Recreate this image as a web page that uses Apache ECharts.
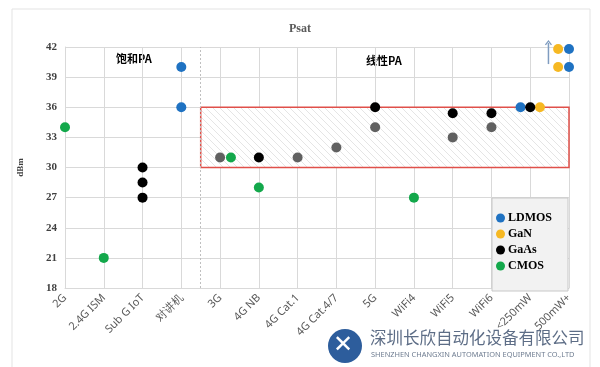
<!DOCTYPE html>
<html><head><meta charset="utf-8">
<script src="https://cdn.jsdelivr.net/npm/echarts@6/dist/echarts.min.js"></script>
<style>html,body{margin:0;padding:0;background:#fff}#c{width:600px;height:367px}</style>
</head><body><div id="c"></div>
<script>
var categories = ['2G','2.4G ISM','Sub G IoT','对讲机','3G','4G NB','4G Cat.1','4G Cat.4/7','5G','WiFi4','WiFi5','WiFi6','<250mW','500mW+'];
var yTicks = [18,21,24,27,30,33,36,39,42];
// [category position, dBm]
var ldmos = [[3,40],[3,36],[11.75,36],[13,41.8],[13,40]];
var gan   = [[12.25,36],[12.72,41.8],[12.72,40]];
var gaas  = [[2,30],[2,28.5],[2,27],[5,31],[8,36],[10,35.4],[11,35.4],[12,36]];
var cmos  = [[0,34],[1,21],[4.28,31],[5,28],[9,27]];
var gaasLinear = [[4,31],[6,31],[7,32],[8,34],[10,33],[11,34]];
var linearBand = [3.5, 13, 30, 36];
var arrowFrom = [12.47, 40.3], arrowTo = [12.47, 42.6];

var pc = document.createElement('canvas'); pc.width = 7; pc.height = 7;
var g = pc.getContext('2d'); g.fillStyle='#fff'; g.fillRect(0,0,7,7);
g.strokeStyle = '#dadada'; g.lineWidth = 0.7;
g.beginPath(); g.moveTo(0,0); g.lineTo(7,7); g.moveTo(-3.5,3.5); g.lineTo(3.5,10.5); g.moveTo(3.5,-3.5); g.lineTo(10.5,3.5); g.stroke();

var chart = echarts.init(document.getElementById('c'));
function sc(name, data, color, extra){
  var s = {name:name, type:'scatter', data:data, symbolSize:10, itemStyle:{color:color, opacity:1}, z:5};
  return Object.assign(s, extra||{});
}
chart.setOption({
  animation:false,
  title:{text:'Psat', left:'center', top:18, textStyle:{fontFamily:'Liberation Serif', fontWeight:'bold', fontSize:12, color:'#595959'}},
  grid:{left:65, right:31, top:47, bottom:79},
  legend:{orient:'vertical', left:492, top:198, data:['LDMOS','GaN','GaAs','CMOS'],
    backgroundColor:'#f2f2f2', borderColor:'#c8c8c8', borderWidth:1, borderRadius:0,
    padding:[14,16,19,4], itemGap:4, itemWidth:9, itemHeight:9, icon:'circle',
    textStyle:{fontFamily:'Liberation Serif', fontWeight:'bold', fontSize:12, color:'#000', padding:[0,0,0,-2]}},
  xAxis:{type:'value', min:0, max:13, interval:1,
    axisLine:{show:true, lineStyle:{color:'#d9d9d9'}}, axisTick:{show:false},
    splitLine:{show:true, lineStyle:{color:'#d9d9d9'}},
    axisLabel:{rotate:45, color:'#595959', fontSize:11, fontFamily:'Noto Sans', margin:8,
      formatter:function(v){return categories[v]||'';}}},
  yAxis:{type:'value', min:yTicks[0], max:yTicks[yTicks.length-1], interval:3,
    name:'dBm', nameLocation:'middle', nameGap:40, nameRotate:90,
    nameTextStyle:{fontFamily:'Liberation Serif', fontWeight:'bold', fontSize:9, color:'#404040'},
    axisLine:{show:true, lineStyle:{color:'#d9d9d9'}}, axisTick:{show:false},
    splitLine:{lineStyle:{color:'#d9d9d9'}},
    axisLabel:{color:'#404040', fontFamily:'Liberation Serif', fontWeight:'bold', fontSize:11}},
  series:[
    sc('band', [], '#fff', {z:1, silent:true,
      markArea:{silent:true, itemStyle:{color:{image:pc, repeat:'repeat'}, borderColor:'#e0504a', borderWidth:1.5},
        data:[[{coord:[linearBand[0], linearBand[2]]},{coord:[linearBand[1], linearBand[3]]}]]},
      markLine:{silent:true, symbol:['none','none'], label:{show:false},
        lineStyle:{color:'#bfbfbf', type:[2,2], width:1},
        data:[[{coord:[3.5,18]},{coord:[3.5,42]}]]}}),
    sc('Gray', gaasLinear, '#606060'),
    sc('LDMOS', ldmos, '#1f72c2'),
    sc('GaN', gan, '#f6b822'),
    sc('GaAs', gaas, '#000000'),
    sc('CMOS', cmos, '#13a84b')
  ],
  graphic:[
    {type:'rect', shape:{x:12, y:9, width:578, height:380}, style:{fill:'none', stroke:'#e3e3e3', lineWidth:1}, z:-1},
    {type:'text', left:116, top:53, style:{text:'饱和PA', font:'bold 11px "Noto Sans CJK SC"', fill:'#000'}},
    {type:'text', left:366, top:55, style:{text:'线性PA', font:'bold 11px "Noto Sans CJK SC"', fill:'#000'}},
    {type:'circle', shape:{cx:345, cy:346, r:17}, style:{fill:'#2d5d9c'}, z:10},
    {type:'text', x:333, y:334, style:{text:'✕', font:'bold 24px "DejaVu Sans"', fill:'#fff'}, z:11},
    {type:'text', x:370, y:329, style:{text:'深圳长欣自动化设备有限公司', font:'16.5px "Noto Sans CJK SC"', fill:'#5d6d86'}, z:10},
    {type:'text', x:371, y:351, style:{text:'SHENZHEN CHANGXIN AUTOMATION EQUIPMENT CO.,LTD', font:'7.4px "Noto Sans"', fill:'#6e7c90'}, z:10}
  ]
});
var p0 = chart.convertToPixel({gridIndex:0}, arrowFrom);
var p1 = chart.convertToPixel({gridIndex:0}, arrowTo);
chart.setOption({graphic:[
  {id:'arrLine', type:'line', shape:{x1:p0[0], y1:p0[1], x2:p1[0], y2:p1[1]+2}, style:{stroke:'#7f9cc0', lineWidth:1.5}, z:10},
  {id:'arrHead', type:'polyline', shape:{points:[[p1[0]-3,p1[1]+4],[p1[0],p1[1]],[p1[0]+3,p1[1]+4]]}, style:{stroke:'#7f9cc0', lineWidth:1.3, fill:'none'}, z:10}
]});
</script></body></html>
